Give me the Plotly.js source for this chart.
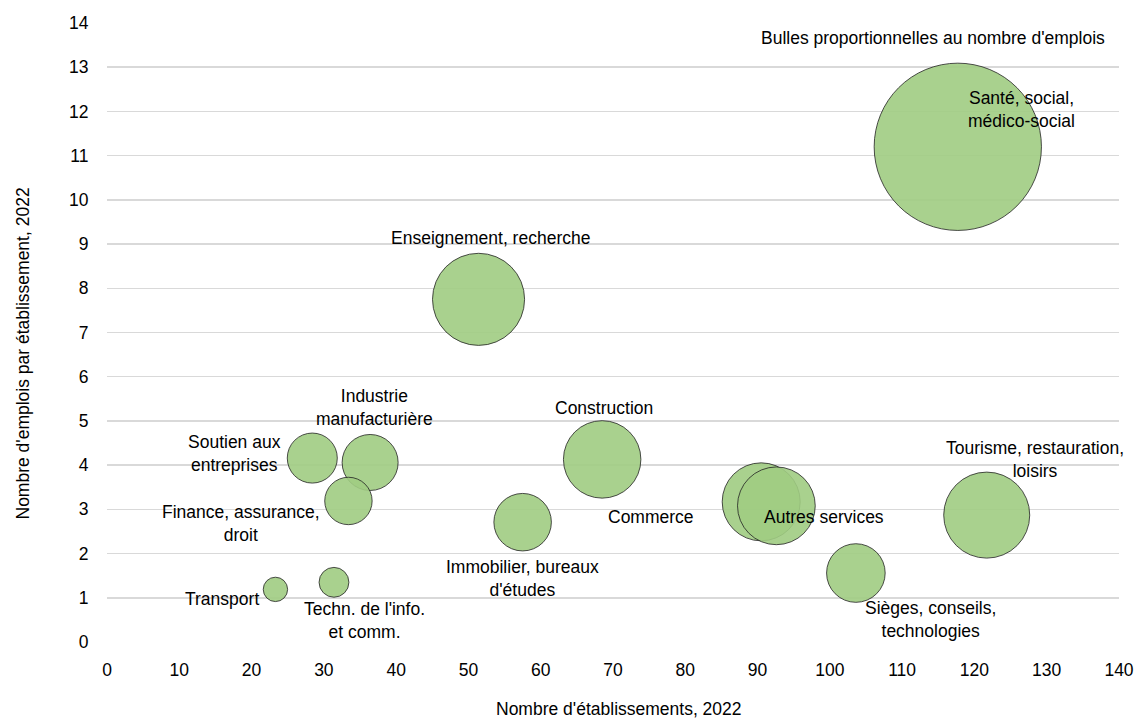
<!DOCTYPE html>
<html>
<head>
<meta charset="utf-8">
<script src="https://cdn.plot.ly/plotly-3.0.1.min.js"></script>
<style>html,body{margin:0;padding:0;background:#fff;}#chart{width:1142px;height:720px;}</style>
</head>
<body>
<div id="chart"></div>
<script>
// ---- Data ----
const sectors = [
  "Santé, social,<br>médico-social",
  "Enseignement, recherche",
  "Construction",
  "Commerce",
  "Autres services",
  "Tourisme, restauration,<br>loisirs",
  "Sièges, conseils,<br>technologies",
  "Immobilier, bureaux<br>d'études",
  "Industrie<br>manufacturière",
  "Soutien aux<br>entreprises",
  "Finance, assurance,<br>droit",
  "Techn. de l'info.<br>et comm.",
  "Transport"
];
const establishments = [117.7, 51.4, 68.5, 90.5, 92.6, 121.7, 103.6, 57.5, 36.4, 28.4, 33.4, 31.4, 23.3];
const jobsPerEstablishment = [11.2, 7.75, 4.13, 3.17, 3.08, 2.87, 1.56, 2.71, 4.06, 4.16, 3.19, 1.35, 1.19];
const jobs = [1320, 400, 283, 287, 285, 349, 162, 156, 148, 118, 106, 42, 28];

const xTicks = [0, 10, 20, 30, 40, 50, 60, 70, 80, 90, 100, 110, 120, 130, 140];
const yTicks = [0, 1, 2, 3, 4, 5, 6, 7, 8, 9, 10, 11, 12, 13, 14];

// ---- Label placement (pixel offsets from each bubble centre) ----
const labelShift = [
  [64, 37], [12, 61], [2, 51], [-110, -15], [48, -11], [48, 56], [75, -46],
  [0, -56], [4, 55], [-78, 5], [-107, -23], [31, -38], [-53, -10]
];

const FONT = "'Liberation Sans', Arial, sans-serif";
const fontBase = {family: FONT, size: 17.5, color: "#000"};

const trace = {
  type: "scatter",
  mode: "markers",
  x: establishments,
  y: jobsPerEstablishment,
  text: sectors,
  hoverinfo: "text",
  marker: {
    size: jobs,
    sizemode: "area",
    sizeref: 1 / (2 * 5.3),
    opacity: 1,
    color: "rgba(160,204,130,0.9)",
    line: {color: "#222222", width: 0.8}
  }
};

const annotations = sectors.map((s, i) => ({
  xref: "x", yref: "y",
  x: establishments[i], y: jobsPerEstablishment[i],
  xshift: labelShift[i][0], yshift: labelShift[i][1],
  text: s, showarrow: false, align: "center",
  xanchor: "center", yanchor: "middle",
  font: fontBase
}));

annotations.push({
  xref: "paper", yref: "paper", x: 0.816, y: 0.975,
  xanchor: "center", yanchor: "middle",
  text: "Bulles proportionnelles au nombre d'emplois",
  showarrow: false, font: fontBase
});
annotations.push({
  xref: "paper", yref: "paper", x: 0.5, y: -0.108,
  xanchor: "center", yanchor: "middle", xshift: 6,
  text: "Nombre d'établissements, 2022",
  showarrow: false, font: fontBase
});
annotations.push({
  xref: "paper", yref: "paper", x: 0, y: 0.5, xshift: -85, yshift: -21,
  xanchor: "center", yanchor: "middle", textangle: -90,
  text: "Nombre d'emplois par établissement, 2022",
  showarrow: false, font: fontBase
});

// thin white separators across gridlines at the x ticks
const shapes = xTicks.slice(1, -1).map(v => ({
  type: "line", xref: "x", yref: "paper", x0: v + 0.3, x1: v + 0.3, y0: 0, y1: 1,
  line: {color: "#ffffff", width: 1.2}, layer: "below"
}));

const layout = {
  width: 1142, height: 720,
  margin: {l: 107, r: 23, t: 23, b: 78},
  paper_bgcolor: "#fff", plot_bgcolor: "#fff",
  showlegend: false,
  font: fontBase,
  xaxis: {
    range: [0, 140], tickvals: xTicks, ticktext: xTicks.map(String),
    showgrid: false, zeroline: false, showline: false,
    ticks: "outside", ticklen: 12, tickcolor: "rgba(0,0,0,0)",
    tickfont: fontBase, fixedrange: true
  },
  yaxis: {
    range: [0, 14], tickvals: yTicks, ticktext: yTicks.map(String),
    showgrid: true, gridcolor: "#d9d9d9", gridwidth: 1.5,
    zeroline: false, showline: false,
    ticks: "outside", ticklen: 14, tickcolor: "rgba(0,0,0,0)",
    tickfont: fontBase, fixedrange: true
  },
  annotations: annotations,
  shapes: shapes
};

Plotly.newPlot("chart", [trace], layout, {displayModeBar: false, staticPlot: true});
</script>
</body>
</html>
